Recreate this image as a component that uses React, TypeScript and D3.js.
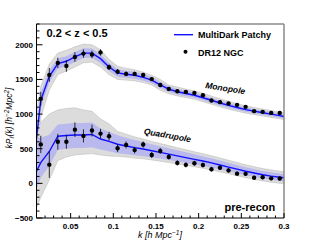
import React from "react";
import * as d3 from "d3";

// model / band grid
const kModel = [0.01, 0.015, 0.025, 0.035, 0.045, 0.055, 0.065, 0.075, 0.085, 0.095, 0.105, 0.115, 0.125, 0.135, 0.145, 0.155, 0.165, 0.175, 0.185, 0.195, 0.205, 0.215, 0.225, 0.235, 0.245, 0.255, 0.265, 0.275, 0.285, 0.295, 0.3];
const monoModel = [650, 1200, 1546, 1729, 1762, 1824, 1880, 1880, 1800, 1680, 1595, 1575, 1560, 1530, 1490, 1420, 1360, 1322, 1297, 1272, 1236, 1200, 1160, 1125, 1095, 1065, 1042, 1020, 999, 977, 965];
const monoBandHalf = [150, 110, 85, 75, 72, 72, 70, 68, 62, 58, 55, 52, 50, 48, 46, 44, 42, 40, 39, 38, 37, 36, 35, 34, 33, 32, 31, 30, 30, 29, 29];
const monoMockHigh = [1000, 1400, 1720, 1880, 1920, 1970, 2010, 2000, 1930, 1790, 1690, 1660, 1640, 1605, 1560, 1500, 1420, 1390, 1360, 1335, 1300, 1260, 1220, 1185, 1150, 1120, 1095, 1072, 1050, 1028, 1016];
const monoMockLow = [300, 950, 1350, 1570, 1620, 1680, 1740, 1750, 1680, 1570, 1500, 1490, 1480, 1455, 1420, 1345, 1295, 1262, 1238, 1214, 1178, 1143, 1104, 1070, 1042, 1013, 992, 972, 952, 932, 920];

const quadModel = [175, 300, 460, 680, 690, 697, 697, 706, 640, 605, 565, 540, 515, 495, 470, 447, 422, 397, 372, 347, 322, 295, 265, 235, 205, 175, 150, 125, 105, 88, 80];
const quadBandHigh = [650, 660, 700, 850, 860, 870, 870, 880, 790, 745, 695, 660, 625, 597, 565, 537, 507, 477, 448, 419, 392, 362, 329, 297, 265, 233, 206, 180, 159, 141, 132];
const quadBandLow = [-80, 80, 250, 480, 500, 510, 510, 520, 490, 465, 435, 420, 405, 393, 375, 357, 337, 317, 296, 275, 252, 228, 201, 173, 145, 117, 94, 70, 51, 35, 28];
const quadMockHigh = [750, 880, 1000, 1060, 1080, 1090, 1060, 1040, 930, 860, 750, 710, 670, 640, 605, 575, 545, 515, 485, 455, 428, 398, 365, 333, 300, 268, 240, 214, 193, 175, 167];
const quadMockLow = [-350, -200, 50, 330, 380, 410, 420, 430, 410, 395, 390, 380, 365, 355, 338, 320, 300, 280, 260, 240, 217, 193, 166, 138, 110, 82, 59, 35, 16, 0, -7];

// data
const kData = [0.015, 0.025, 0.035, 0.045, 0.055, 0.065, 0.075, 0.085, 0.095, 0.105, 0.115, 0.125, 0.135, 0.145, 0.155, 0.165, 0.175, 0.185, 0.195, 0.205, 0.215, 0.225, 0.235, 0.245, 0.255, 0.265, 0.275, 0.285, 0.295];
const monoData = [1220, 1565, 1738, 1695, 1824, 1873, 1860, 1890, 1676, 1612, 1580, 1580, 1563, 1505, 1420, 1363, 1330, 1320, 1305, 1272, 1196, 1172, 1153, 1133, 1104, 1042, 1032, 1017, 1017];
const monoErr = [100, 100, 75, 85, 70, 60, 55, 45, 40, 38, 35, 33, 32, 30, 30, 28, 27, 26, 25, 24, 23, 22, 22, 21, 20, 20, 19, 19, 18];
const quadData = [562, 270, 600, 600, 775, 685, 762, 718, 680, 506, 555, 480, 560, 410, 468, 382, 295, 267, 290, 264, 204, 225, 187, 140, 137, 80, 88, 72, 70];
const quadErr = [125, 190, 115, 100, 105, 95, 85, 70, 62, 55, 50, 48, 45, 43, 42, 40, 38, 37, 36, 35, 34, 33, 32, 31, 30, 30, 29, 28, 28];

const xMajor = [0.05, 0.1, 0.15, 0.2, 0.25, 0.3];
const xMajorLabels = ["0.05", "0.1", "0.15", "0.2", "0.25", "0.3"];
const yMajor = [-500, 0, 500, 1000, 1500, 2000];
const yMajorLabels = ["\u2212500", "0", "500", "1000", "1500", "2000"];

const W = 316, H = 243;
const L = 36.5, R = 284, T = 24, B = 218;
const FONT = "'Liberation Sans', Arial, Helvetica, sans-serif";

export default function App() {
  const x = d3.scaleLinear().domain([0.01, 0.3]).range([L, R]);
  const y = d3.scaleLinear().domain([-500, 2300]).range([B, T]);

  const idx = kModel.map((_, i) => i);
  const area = (hi: number[], lo: number[]) =>
    d3.area<number>().x((i) => x(kModel[i])).y0((i) => y(lo[i])).y1((i) => y(hi[i]))(idx) || "";
  const line = (v: number[]) => d3.line<number>().x((i) => x(kModel[i])).y((i) => y(v[i]))(idx) || "";

  const monoBandHi = monoModel.map((v, i) => v + monoBandHalf[i]);
  const monoBandLo = monoModel.map((v, i) => v - monoBandHalf[i]);

  const xMinor = d3.range(1, 31).map((i) => i / 100).filter((v) => !xMajor.some((m) => Math.abs(m - v) < 1e-9));
  const yMinor = d3.range(-500, 2301, 100).filter((v) => v % 500 !== 0);

  return (
    <svg width={W} height={H} style={{ display: "block", position: "absolute", left: 0, top: 0 }} fontFamily={FONT}>
      <rect x={0} y={0} width={W} height={H} fill="#fff" />
      <defs>
        <clipPath id="plot">
          <rect x={L} y={T} width={R - L} height={B - T} />
        </clipPath>
      </defs>
      <g clipPath="url(#plot)">
        {/* mock envelopes */}
        <path d={area(monoMockHigh, monoMockLow)} fill="#dcdcdc" stroke="#bdbdbd" strokeWidth={0.6} />
        <path d={area(quadMockHigh, quadMockLow)} fill="#dcdcdc" stroke="#bdbdbd" strokeWidth={0.6} />
        {/* bands */}
        <path d={area(monoBandHi, monoBandLo)} fill="#aeaef4" fillOpacity={0.75} />
        <path d={area(quadBandHigh, quadBandLow)} fill="#aeaef4" fillOpacity={0.75} />
        {/* model lines */}
        <path d={line(monoModel)} fill="none" stroke="#1010ff" strokeWidth={1.4} />
        <path d={line(quadModel)} fill="none" stroke="#1010ff" strokeWidth={1.4} />
        {/* data */}
        {kData.map((k, i) => (
          <g key={"m" + i}>
            <line x1={x(k)} x2={x(k)} y1={y(monoData[i] - monoErr[i])} y2={y(monoData[i] + monoErr[i])} stroke="#000" strokeWidth={0.8} />
            <circle cx={x(k)} cy={y(monoData[i])} r={2.2} fill="#000" />
          </g>
        ))}
        {kData.map((k, i) => (
          <g key={"q" + i}>
            <line x1={x(k)} x2={x(k)} y1={y(quadData[i] - quadErr[i])} y2={y(quadData[i] + quadErr[i])} stroke="#000" strokeWidth={0.8} />
            <circle cx={x(k)} cy={y(quadData[i])} r={2.2} fill="#000" />
          </g>
        ))}
      </g>

      {/* frame */}
      <line x1={L} x2={R} y1={T} y2={T} stroke="#8a8a8a" strokeWidth={1.5} />
      <line x1={R} x2={R} y1={T} y2={B} stroke="#8a8a8a" strokeWidth={1.5} />
      <line x1={L} x2={L} y1={T} y2={B} stroke="#000" strokeWidth={1} />
      <line x1={L} x2={R} y1={B} y2={B} stroke="#000" strokeWidth={1} />

      {/* ticks */}
      {xMajor.map((v) => (
        <line key={"xM" + v} x1={x(v)} x2={x(v)} y1={B} y2={B - 5} stroke="#000" strokeWidth={1} />
      ))}
      {xMinor.map((v) => (
        <line key={"xm" + v} x1={x(v)} x2={x(v)} y1={B} y2={B - 2.5} stroke="#000" strokeWidth={1} />
      ))}
      {yMajor.map((v) => (
        <line key={"yM" + v} x1={L} x2={L + 6} y1={y(v)} y2={y(v)} stroke="#000" strokeWidth={1} />
      ))}
      {yMinor.map((v) => (
        <line key={"ym" + v} x1={L} x2={L + 3} y1={y(v)} y2={y(v)} stroke="#000" strokeWidth={1} />
      ))}

      {/* tick labels */}
      {xMajor.map((v, i) => (
        <text key={"xl" + v} x={x(v)} y={228.5} fontSize={8} fontWeight="bold" textAnchor="middle">{xMajorLabels[i]}</text>
      ))}
      {yMajor.map((v, i) => (
        <text key={"yl" + v} x={33} y={y(v) + 3} fontSize={8} fontWeight="bold" textAnchor="end">{yMajorLabels[i]}</text>
      ))}

      {/* axis titles */}
      <text x={160} y={238} fontSize={9} fontStyle="italic" textAnchor="middle">
        k  [h Mpc<tspan dy={-3} fontSize={6.5}>−1</tspan><tspan dy={3}>]</tspan>
      </text>
      <text transform="translate(12,118) rotate(-90)" fontSize={8.5} fontStyle="italic" textAnchor="middle">
        kP<tspan dy={2} fontSize={6.5}>ℓ</tspan><tspan dy={-2}>(k)  [h</tspan><tspan dy={-3} fontSize={6.5}>−2</tspan><tspan dy={3}>Mpc</tspan><tspan dy={-3} fontSize={6.5}>2</tspan><tspan dy={3}>]</tspan>
      </text>

      {/* annotations */}
      <text x={46.5} y={36.5} fontSize={11} fontWeight="bold">0.2 &lt; z &lt; 0.5</text>
      <text x={224.5} y={211} fontSize={11} fontWeight="bold">pre-recon</text>
      <text transform="translate(205,88) rotate(9)" fontSize={8.5} fontWeight="bold" fontStyle="italic">Monopole</text>
      <text transform="translate(143.5,134) rotate(10)" fontSize={8.5} fontWeight="bold" fontStyle="italic">Quadrupole</text>

      {/* legend */}
      <line x1={174} x2={193} y1={34.7} y2={34.7} stroke="#1010ff" strokeWidth={1.4} />
      <text x={198} y={38.3} fontSize={9} fontWeight="bold">MultiDark Patchy</text>
      <circle cx={185.5} cy={51.8} r={2} fill="#000" />
      <text x={198} y={55.5} fontSize={9} fontWeight="bold">DR12 NGC</text>
    </svg>
  );
}
